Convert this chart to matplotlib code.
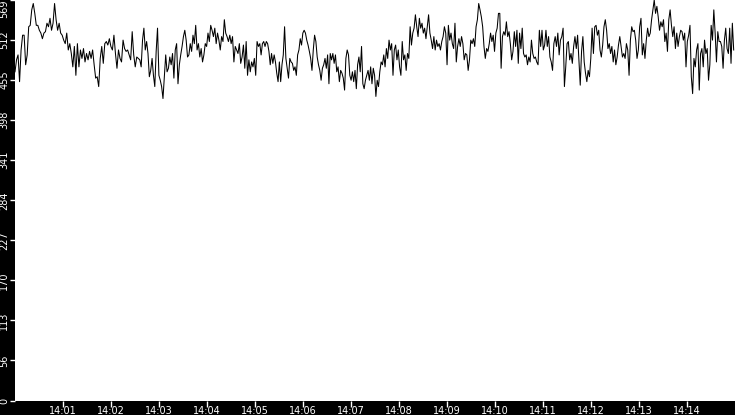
import matplotlib
matplotlib.use("Agg")
import matplotlib.pyplot as plt
import numpy as np
import pandas as pd

# readings, split in chunks of about 2.5 minutes each
seg_start = ["14:00:00", "14:02:36", "14:05:06", "14:07:36", "14:10:06", "14:12:36"]
seg_end = ["14:02:36", "14:05:06", "14:07:36", "14:10:06", "14:12:36", "14:15:00"]

seg1 = [467, 484, 491, 453, 498, 519, 519, 477, 491, 531, 533, 555, 564, 550, 533, 533, 526, 522,
        514, 522, 524, 536, 531, 543, 526, 536, 564, 541, 526, 536, 522, 519, 512, 507, 522, 498,
        507, 493, 474, 503, 462, 507, 474, 498, 486, 500, 481, 493, 484, 496, 486, 498, 477, 458,
        460, 446, 486, 503, 479, 507, 510, 505, 514, 503, 498, 519, 493, 472, 498, 486, 481, 512,
        500, 496, 498, 491, 484, 524, 491, 474, 488, 486]
seg2 = [484, 474, 512, 529, 498, 510, 493, 460, 469, 486, 462, 446, 496, 529, 462, 455, 446, 429,
        460, 491, 467, 472, 488, 477, 493, 458, 498, 507, 450, 477, 491, 503, 517, 526, 512, 488,
        491, 507, 496, 519, 507, 533, 498, 507, 488, 500, 481, 491, 507, 503, 522, 510, 533, 526,
        517, 529, 507, 522, 512, 498, 517, 510, 541, 522, 517, 510, 519, 507, 517, 481, 503, 498,
        493, 507, 479, 488, 505, 472, 510, 462, 484, 467, 481, 474, 486, 462, 510, 503]
seg3 = [507, 491, 507, 510, 503, 510, 507, 496, 477, 493, 479, 491, 481, 465, 453, 481, 453, 477,
        491, 531, 486, 472, 458, 486, 481, 479, 469, 474, 462, 491, 498, 514, 505, 522, 526, 522,
        512, 505, 496, 486, 469, 498, 519, 510, 488, 477, 469, 455, 472, 477, 486, 472, 491, 450,
        493, 484, 493, 479, 491, 467, 474, 453, 469, 465, 458, 441, 486, 498, 491, 462, 455, 467,
        453, 469, 443, 477, 488, 467, 503, 450, 443, 455, 462, 469, 455, 474, 450, 472, 462, 432,
        455, 446]
seg4 = [467, 481, 477, 491, 474, 500, 486, 512, 498, 507, 462, 498, 505, 484, 498, 474, 462, 510,
        484, 491, 469, 493, 486, 531, 505, 522, 529, 548, 531, 517, 543, 529, 536, 522, 529, 514,
        531, 548, 522, 512, 500, 517, 498, 512, 503, 507, 498, 510, 517, 531, 522, 477, 533, 512,
        522, 507, 500, 536, 481, 503, 514, 503, 517, 507, 484, 493, 491, 469, 484, 512, 507, 514,
        503, 531, 541, 564, 555, 545, 531, 503, 486, 500, 496, 507, 522, 510, 519, 496, 522, 529,
        550]
seg5 = [550, 472, 517, 524, 519, 538, 517, 524, 507, 484, 496, 524, 503, 526, 479, 522, 500, 529,
        493, 488, 491, 477, 488, 481, 512, 493, 486, 488, 481, 477, 526, 503, 526, 498, 505, 526,
        503, 517, 488, 481, 469, 507, 517, 503, 522, 491, 512, 517, 529, 446, 474, 507, 510, 484,
        493, 479, 503, 517, 500, 519, 484, 448, 496, 517, 481, 465, 453, 469, 460, 486, 529, 493,
        531, 533, 519, 526, 498, 488, 505, 531, 541, 526, 500, 507, 493, 503, 481, 498, 477, 488,
        505]
seg6 = [517, 503, 488, 493, 486, 507, 498, 462, 512, 531, 524, 526, 512, 486, 498, 531, 543, 491,
        507, 486, 512, 529, 517, 522, 541, 555, 569, 550, 560, 545, 526, 538, 531, 541, 510, 522,
        496, 541, 555, 533, 517, 531, 500, 522, 503, 517, 526, 524, 512, 522, 474, 510, 519, 533,
        460, 436, 486, 474, 498, 507, 441, 493, 500, 474, 512, 493, 500, 455, 477, 533, 512, 555,
        522, 481, 524, 510, 510, 503, 472, 512, 529, 500, 493, 529, 479, 536, 498]
segs = [seg1, seg2, seg3, seg4, seg5, seg6]

y_max = 569
x_ticks = ["14:%02d" % m for m in range(1, 15)]
day = "2024-01-01 "

times = []
values = []
for start, end, vals in zip(seg_start, seg_end, segs):
    t = pd.date_range(day + start, day + end, periods=len(vals) + 1)[:-1]
    times.extend(t.to_pydatetime())
    values.extend(vals)

fig = plt.figure(figsize=(7.35, 4.15), dpi=100, facecolor="black")
ax = fig.add_axes([15 / 735, 14.5 / 415, 720 / 735, 400.5 / 415])
ax.set_facecolor("white")
ax.plot(times, values, color="black", lw=0.75)

ax.set_xlim(pd.Timestamp(day + "14:00:00").to_pydatetime(),
            pd.Timestamp(day + "14:15:00").to_pydatetime())
ax.set_ylim(0, y_max)

xt = [pd.Timestamp(day + s).to_pydatetime() for s in x_ticks]
ax.set_xticks(xt)
ax.set_xticklabels(x_ticks)

yt = np.linspace(0, y_max, 11)
ax.set_yticks(yt)
ylabels = ax.set_yticklabels([str(int(v)) for v in yt], rotation=90, va="center")
ylabels[-1].set_va("top")

for s in ax.spines.values():
    s.set_visible(False)
ax.tick_params(axis="x", colors="white", length=4, width=1, pad=0, labelsize=7)
ax.tick_params(axis="y", colors="white", length=3.6, width=1, pad=0.5, labelsize=7)

fig.savefig("out.png", dpi=100, facecolor="black")
